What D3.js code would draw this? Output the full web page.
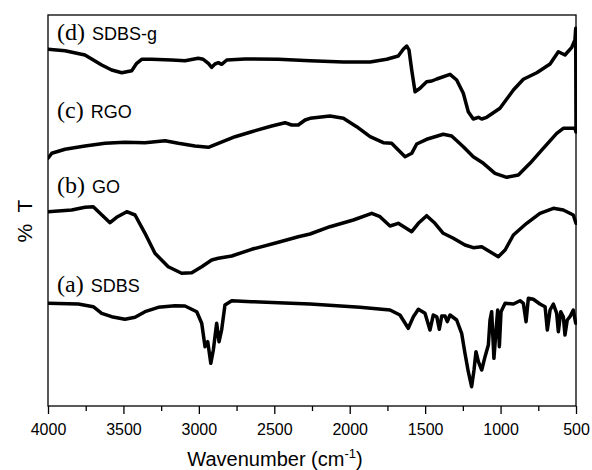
<!DOCTYPE html>
<html>
<head>
<meta charset="utf-8">
<script src="https://cdn.jsdelivr.net/npm/d3@7/dist/d3.min.js"></script>
<style>
  html, body { margin: 0; padding: 0; background: #fff; }
  svg { display: block; }
</style>
</head>
<body>
<svg id="chart" width="592" height="470"></svg>
<script>
// ---- Data (wavenumber in cm^-1, offset transmittance in arbitrary units) ----
const xTicks = [4000, 3500, 3000, 2500, 2000, 1500, 1000, 500];
const xMinorTicks = [3750, 3250, 2750, 2250, 1750, 1250, 750];

const seriesLabels = [
  { letter: "(d)", name: "SDBS-g", y: 366.5 },
  { letter: "(c)", name: "RGO", y: 288 },
  { letter: "(b)", name: "GO", y: 213 },
  { letter: "(a)", name: "SDBS", y: 114.5 }
];

const sdbsG = [
  [4000,356.7],[3887,355.3],[3755,351],[3644,341],[3578,336],[3511,333.3],[3445,335.3],[3412,342.7],
  [3379,346.7],[3313,346.7],[3180,346],[3092,345.3],[3004,347.7],[2971,346.7],[2937,342.7],[2915,338.7],
  [2893,342],[2871,343.3],[2849,341.7],[2815,346],[2694,347],[2473,346.7],[2263,345.3],[2042,344],
  [1865,344],[1755,346.7],[1678,350],[1645,356.7],[1622,360],[1607,356],[1589,336],[1567,314.3],
  [1534,317.7],[1490,324.3],[1456,325],[1423,327],[1335,331.7],[1291,326],[1247,312.7],[1214,294.3],
  [1181,287],[1147,288.7],[1125,287],[1092,288.7],[1004,297.7],[915,316],[849,326.7],[760,333.3],
  [672,342],[617,354.3],[573,351],[528,358.7],[507,366],[502,377.7],[500,278]
];

const rgo = [
  [4000,247.7],[3975,252.7],[3887,256.7],[3755,260],[3622,262.7],[3490,263.7],[3357,263.3],[3224,265.3],
  [3136,262.7],[3026,260],[2937,258.7],[2871,262.7],[2760,269.3],[2650,274.3],[2517,280],[2429,283.3],
  [2385,281],[2341,281],[2296,286],[2263,287.7],[2131,290],[2042,287.7],[1954,279.3],[1865,269.3],
  [1777,263.3],[1722,262.7],[1678,256],[1633,249.3],[1589,252.7],[1556,262],[1490,266.7],[1380,271.7],
  [1324,270],[1247,259.3],[1181,249.3],[1114,242.7],[1037,232.7],[959,228.7],[882,231],[805,242.7],
  [717,257.7],[628,272.7],[584,277.7],[507,277.7],[500,274]
];

const go = [
  [4000,194.3],[3843,196],[3755,198.7],[3700,199.3],[3655,192.7],[3589,183.3],[3545,188.7],[3478,194.3],
  [3423,191],[3357,172.7],[3291,152.7],[3203,139.3],[3114,132.7],[3047,133.3],[2981,139.3],[2915,146],
  [2871,147.7],[2782,150],[2650,156.7],[2473,163.7],[2341,169.3],[2263,172],[2131,179.3],[1976,186],
  [1854,192.7],[1799,189.3],[1733,180],[1678,182.7],[1589,174.3],[1545,182.7],[1490,190.3],[1435,182.7],
  [1380,172.7],[1313,167.7],[1236,161],[1181,158.3],[1125,159.3],[1070,154.3],[1015,149.3],[970,156],
  [915,171],[827,182.7],[739,192.7],[650,197.7],[584,196],[518,191],[500,182.7]
];

const sdbs = [
  [4000,102.7],[3799,102],[3700,99.3],[3644,92.7],[3578,89.3],[3490,86.7],[3423,88.7],[3357,94.3],
  [3269,98.7],[3158,100.3],[3092,100],[3014,94.3],[2981,82.7],[2959,59.3],[2941,64.3],[2921,42.7],
  [2904,56],[2882,82.7],[2866,64.3],[2849,76],[2827,101],[2782,105.3],[2650,104.3],[2473,103.3],
  [2263,102],[1932,98.7],[1733,96],[1667,91],[1612,77.7],[1578,89.3],[1545,96.7],[1501,92.7],
  [1468,76],[1446,91],[1423,89.3],[1406,76.7],[1390,90],[1368,90],[1353,84.3],[1335,91],
  [1291,86],[1258,72.7],[1236,52.7],[1214,34.3],[1192,19.3],[1176,36],[1163,54.3],[1147,44.3],
  [1125,36],[1103,49.3],[1081,61],[1070,86],[1059,94.3],[1044,47.7],[1030,76],[1019,96],
  [1008,59.3],[997,94.3],[970,102.7],[915,102],[871,105.3],[849,102.7],[831,84.3],[816,107.7],
  [783,106.7],[739,102],[705,99.3],[690,76],[672,96],[650,102],[628,92.7],[617,74.3],
  [601,94.3],[584,89.3],[573,71],[558,86],[540,89.3],[518,96],[502,82.7]
];

const allSeries = [sdbsG, rgo, go, sdbs];

// ---- Layout ----
const svg = d3.select("#chart");
const mLeft = 48, mRight = 576, mTop = 15, mBottom = 406;

const x = d3.scaleLinear().domain([4000, 500]).range([mLeft, mRight]);
const y = d3.scaleLinear().domain([0, 391]).range([mBottom, mTop]);

svg.append("defs").append("clipPath").attr("id", "clip")
  .append("rect").attr("x", mLeft).attr("y", mTop - 2)
  .attr("width", mRight - mLeft + 1).attr("height", mBottom - mTop + 2);

const line = d3.line().x(d => x(d[0])).y(d => y(d[1]));

svg.append("g").attr("clip-path", "url(#clip)")
  .selectAll("path").data(allSeries).join("path")
  .attr("d", line)
  .attr("fill", "none")
  .attr("stroke", "#000")
  .attr("stroke-width", 3.5)
  .attr("stroke-linejoin", "round")
  .attr("stroke-linecap", "round");

// Frame
svg.append("rect")
  .attr("x", mLeft).attr("y", mTop)
  .attr("width", mRight - mLeft).attr("height", mBottom - mTop)
  .attr("fill", "none").attr("stroke", "#000").attr("stroke-width", 1.3);

// Axis
const axisG = svg.append("g").attr("transform", `translate(0,${mBottom})`);
axisG.call(d3.axisBottom(x).tickValues(xTicks).tickSize(8).tickPadding(10).tickFormat(d3.format("d")));
axisG.select(".domain").remove();
axisG.selectAll(".tick line").attr("stroke", "#000").attr("stroke-width", 1.3);
axisG.selectAll(".tick text")
  .attr("font-family", "Liberation Sans, Arial, sans-serif")
  .attr("font-size", 16).attr("fill", "#000");

const minorG = svg.append("g").attr("transform", `translate(0,${mBottom})`);
minorG.call(d3.axisBottom(x).tickValues(xMinorTicks).tickSize(5).tickFormat(""));
minorG.select(".domain").remove();
minorG.selectAll(".tick line").attr("stroke", "#000").attr("stroke-width", 1.3);

// Axis titles
const title = svg.append("text")
  .attr("x", 275).attr("y", 466)
  .attr("text-anchor", "middle")
  .attr("font-family", "Liberation Sans, Arial, sans-serif")
  .attr("font-size", 20).attr("fill", "#000");
title.append("tspan").text("Wavenumber (cm");
title.append("tspan").attr("font-size", 13).attr("dy", -8).text("-1");
title.append("tspan").attr("dy", 8).text(")");

svg.append("text")
  .attr("transform", "translate(32,221) rotate(-90)")
  .attr("text-anchor", "middle")
  .attr("font-family", "Liberation Sans, Arial, sans-serif")
  .attr("font-size", 21).attr("fill", "#000")
  .attr("xml:space", "preserve")
  .text("%  T");

// Series labels
const lab = svg.append("g").selectAll("text").data(seriesLabels).join("text")
  .attr("x", 57)
  .attr("y", d => y(d.y));
lab.append("tspan")
  .attr("font-family", "Liberation Serif, Times New Roman, serif")
  .attr("font-size", 24)
  .text(d => d.letter);
lab.append("tspan")
  .attr("dx", 7)
  .attr("font-family", "Liberation Sans, Arial, sans-serif")
  .attr("font-size", 18)
  .text(d => d.name);
</script>
</body>
</html>
